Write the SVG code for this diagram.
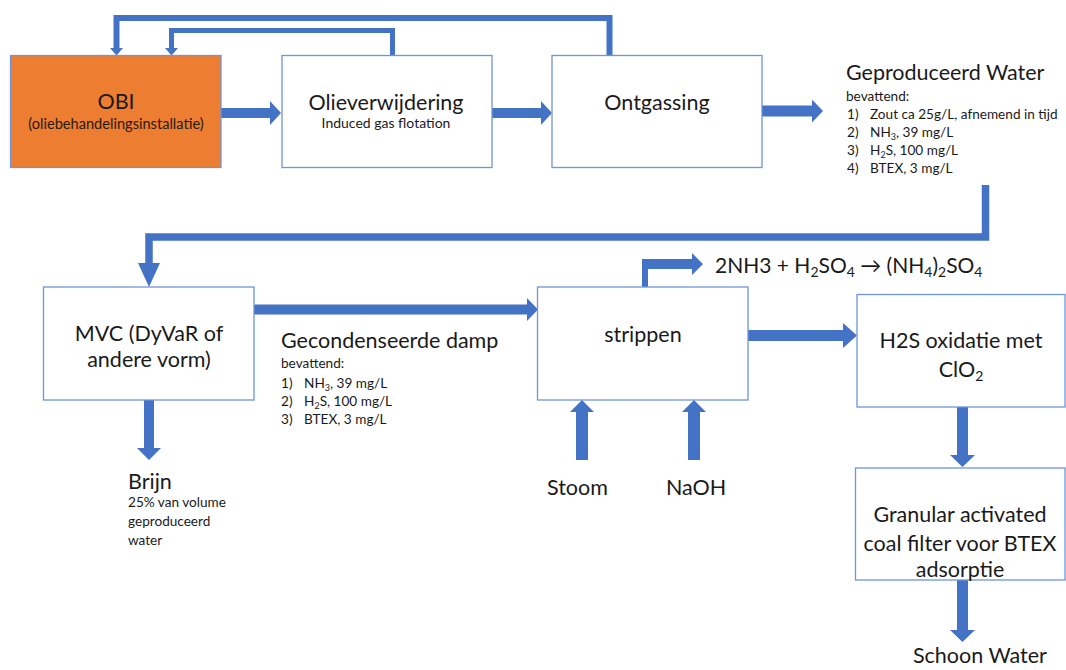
<svg xmlns="http://www.w3.org/2000/svg" width="1066" height="670" viewBox="0 0 1066 670">
<style>
.box{fill:#fff;stroke:#6F96D6;stroke-width:1.3}
.obi{fill:#ED7D31;stroke:#6F96D6;stroke-width:1.3}
.arr{fill:#4472C4;stroke:none}
.ln{fill:none;stroke:#4472C4;stroke-linejoin:miter}
text{font-family:Lato,"Open Sans","Liberation Sans",sans-serif;fill:#1a1a1a}
.big{font-size:21.5px}
.mid{font-size:14px}
.sm{font-size:13.6px}
.c{text-anchor:middle}
</style>
<rect width="1066" height="670" fill="#fff"/>
<g id="connectors">
  <path class="ln" stroke-width="6" d="M609.5,55 V18 H116.5 V49"/>
  <polygon class="arr" points="110,48 123,48 116.5,55.5"/>
  <path class="ln" stroke-width="5" d="M392.5,55 V30.5 H171.5 V49"/>
  <polygon class="arr" points="165,48 178,48 171.5,55.5"/>
  <polygon class="arr" points="221,108 270,108 270,101 281,113 270,125 270,118 221,118"/>
  <polygon class="arr" points="492,108 541,108 541,101 552,113 541,125 541,118 492,118"/>
  <polygon class="arr" points="762,105.5 812,105.5 812,99.5 823,111 812,122.5 812,116.5 762,116.5"/>
  <path class="ln" stroke-width="7.5" d="M985.5,185 V237 H149 V264"/>
  <polygon class="arr" points="138,263 160,263 149,287"/>
  <polygon class="arr" points="254,304.5 527,304.5 527,298 538,309.5 527,321 527,314.5 254,314.5"/>
  <path class="ln" stroke-width="6" d="M645,287 V262"/>
  <polygon class="arr" points="642,259 692,259 692,253 703,264 692,275 692,269 642,269"/>
  <polygon class="arr" points="748,330 843,330 843,323 857,335.5 843,348 843,341 748,341"/>
  <polygon class="arr" points="957,407 968,407 968,455 975,455 962.5,467 950,455 957,455"/>
  <polygon class="arr" points="957,580 968,580 968,630 975,630 962.5,642 950,630 957,630"/>
  <polygon class="arr" points="144,400 154,400 154,448 161,448 149,460 137,448 144,448"/>
  <polygon class="arr" points="576,460 588,460 588,412 594,412 582,400 570,412 576,412"/>
  <polygon class="arr" points="688,460 700,460 700,412 706,412 694,400 682,412 688,412"/>
</g>
<g id="obi">
  <rect class="obi" x="10.5" y="55.5" width="210.5" height="112"/>
  <text class="big c" x="116" y="109">OBI</text>
  <text class="c" x="116" y="129" style="font-size:14.6px;fill:#2a1a10">(oliebehandelingsinstallatie)</text>
</g>
<g id="olieverwijdering">
  <rect class="box" x="282" y="55.5" width="210" height="112"/>
  <text class="big c" x="386" y="110">Olieverwijdering</text>
  <text class="mid c" x="386" y="128">Induced gas flotation</text>
</g>
<g id="ontgassing">
  <rect class="box" x="552" y="55.5" width="210" height="112"/>
  <text class="big c" x="657" y="110">Ontgassing</text>
</g>
<g id="geproduceerd-water">
  <text class="big" x="846" y="80">Geproduceerd Water</text>
  <text class="sm" x="846" y="101">bevattend:</text>
  <text class="sm" x="847" y="119">1)</text><text class="sm" x="870" y="119">Zout ca 25g/L, afnemend in tijd</text>
  <text class="sm" x="847" y="137">2)</text><text class="sm" x="870" y="137">NH<tspan font-size="9" dy="3">3</tspan><tspan dy="-3">, 39 mg/L</tspan></text>
  <text class="sm" x="847" y="155">3)</text><text class="sm" x="870" y="155">H<tspan font-size="9" dy="3">2</tspan><tspan dy="-3">S, 100 mg/L</tspan></text>
  <text class="sm" x="847" y="173">4)</text><text class="sm" x="870" y="173">BTEX, 3 mg/L</text>
</g>
<g id="mvc">
  <rect class="box" x="43.5" y="287" width="210.5" height="113"/>
  <text class="big c" x="149" y="341">MVC (DyVaR of</text>
  <text class="big c" x="149" y="367">andere vorm)</text>
</g>
<g id="gecondenseerde-damp">
  <text class="big" x="281" y="348">Gecondenseerde damp</text>
  <text class="sm" x="281" y="368">bevattend:</text>
  <text class="sm" x="281" y="388">1)</text><text class="sm" x="304" y="388">NH<tspan font-size="9" dy="3">3</tspan><tspan dy="-3">, 39 mg/L</tspan></text>
  <text class="sm" x="281" y="406">2)</text><text class="sm" x="304" y="406">H<tspan font-size="9" dy="3">2</tspan><tspan dy="-3">S, 100 mg/L</tspan></text>
  <text class="sm" x="281" y="424">3)</text><text class="sm" x="304" y="424">BTEX, 3 mg/L</text>
</g>
<g id="brijn">
  <text class="big" x="128" y="489">Brijn</text>
  <text class="sm" x="128" y="507">25% van volume</text>
  <text class="sm" x="128" y="526">geproduceerd</text>
  <text class="sm" x="128" y="545">water</text>
</g>
<g id="strippen">
  <rect class="box" x="537.5" y="287" width="210.5" height="113"/>
  <text class="big c" x="643" y="342">strippen</text>
</g>
<g id="reactie">
  <text class="big" x="715" y="273" style="font-size:21px">2NH3 + H<tspan font-size="14" dy="4">2</tspan><tspan dy="-4">SO</tspan><tspan font-size="14" dy="4">4</tspan><tspan dy="-4"> → (NH</tspan><tspan font-size="14" dy="4">4</tspan><tspan dy="-4">)</tspan><tspan font-size="14" dy="4">2</tspan><tspan dy="-4">SO</tspan><tspan font-size="14" dy="4">4</tspan></text>
</g>
<g id="stoom"><text class="big" x="547" y="495">Stoom</text></g>
<g id="naoh"><text class="big" x="666" y="495">NaOH</text></g>
<g id="h2s-oxidatie">
  <rect class="box" x="857" y="294.5" width="208" height="112.5"/>
  <text class="big c" x="961" y="348">H2S oxidatie met</text>
  <text class="big c" x="961" y="377">ClO<tspan font-size="14" dy="4">2</tspan></text>
</g>
<g id="granular">
  <rect class="box" x="855.5" y="468" width="209.5" height="112"/>
  <text class="big c" x="960" y="522">Granular activated</text>
  <text class="big c" x="960" y="551">coal filter voor BTEX</text>
  <text class="big c" x="960" y="577">adsorptie</text>
</g>
<g id="schoon-water"><text class="big" x="913" y="663">Schoon Water</text></g>
</svg>
